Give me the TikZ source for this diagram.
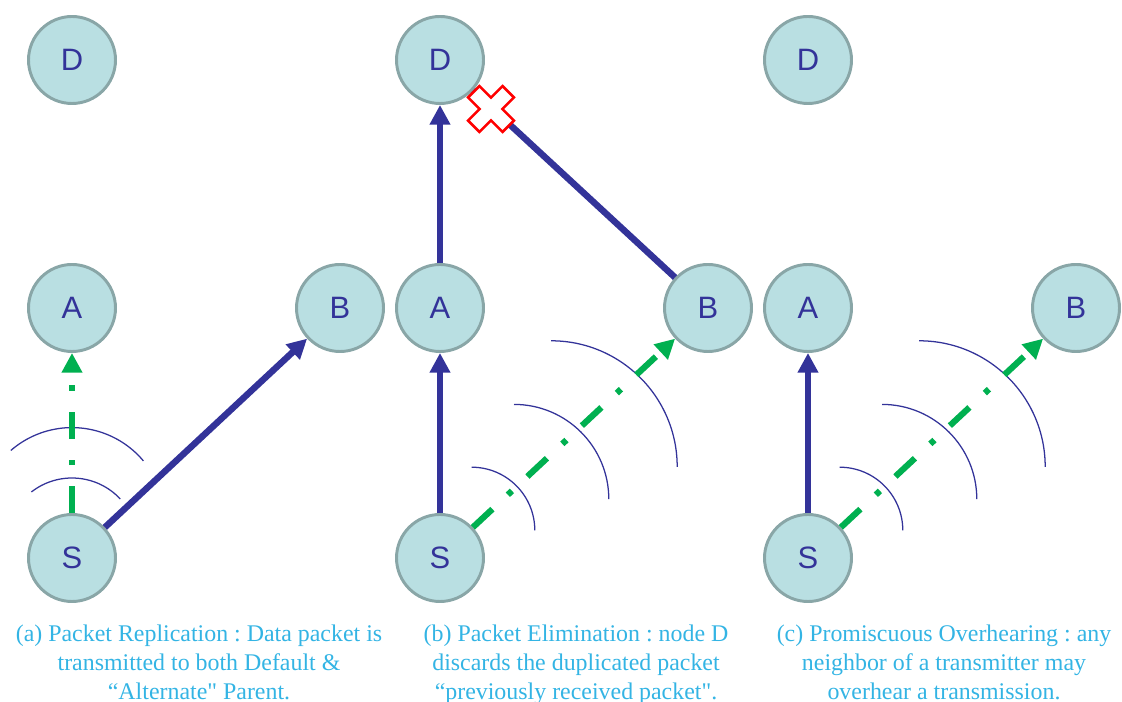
\documentclass[tikz,border=0pt]{standalone}
\usepackage{fontspec}
\newfontfamily\nodefont{Liberation Sans}
\newfontfamily\capfont[Ligatures=TeXOff]{Liberation Serif}
\usepackage[dvipsnames]{xcolor}
\definecolor{nodefill}{HTML}{B9DFE2}
\definecolor{nodeline}{HTML}{89A6A7}
\definecolor{linkblue}{HTML}{333399}
\definecolor{linkgreen}{HTML}{00B050}
\definecolor{captionblue}{HTML}{33B4E4}
\usetikzlibrary{arrows.meta}
\frenchspacing

\tikzset{
  netnode/.style={circle,draw=nodeline,fill=nodefill,line width=2.1pt,minimum size=2.175cm,inner sep=0pt,text=linkblue,font=\nodefont\fontsize{22}{26}\selectfont},
  bluelink/.style={draw=linkblue,line width=4.6pt},
  greenlink/.style={draw=linkgreen,line width=4.4pt,dash pattern=on 19pt off 15pt on 4pt off 15pt},
  headed/.style={-{Triangle[length=14pt,width=14pt]}},
  wave/.style={draw=linkblue,line width=0.9pt},
  caption/.style={text=captionblue,font=\capfont\fontsize{17}{20.5}\selectfont,align=center,anchor=north,inner sep=0pt},
  crossmark/.style={draw=red,fill=white,line width=1.8pt,line join=miter},
}

\begin{document}
\begin{tikzpicture}
  \useasboundingbox (0,0) rectangle (28.05,17.55);

  % three copies of the same four nodes
  \foreach \p/\x in {a/0,b/9.2,c/18.4}{
    \node[netnode] (D\p) at (1.8+\x,16.05) {D};
    \node[netnode] (A\p) at (1.8+\x,9.85) {A};
    \node[netnode] (B\p) at (8.5+\x,9.85) {B};
    \node[netnode] (S\p) at (1.8+\x,3.6) {S};
  }

  % (a) replication
  \draw[wave] ([yshift=0.35cm]Sa.center) ++(43:1.65) arc[start angle=43,end angle=128,radius=1.65];
  \draw[wave] ([yshift=0.93cm]Sa.center) ++(40:2.33) arc[start angle=40,end angle=131,radius=2.33];
  \draw[greenlink,headed] (Sa) -- (Aa);
  \draw[bluelink,headed] (Sa) -- (Ba);

  % (b) and (c) overhearing waves
  \foreach \p in {b,c}{
    \foreach \dx/\dy/\r in {0.79/2.27/1.58,1.85/3.84/2.37,2.78/5.43/3.15}
      \draw[wave] (S\p.center) ++(\dx,\dy) arc[start angle=90,end angle=0,radius=\r];
    \draw[bluelink,headed] (S\p) -- (A\p);
    \draw[greenlink,headed] (S\p) -- (B\p);
  }

  % (b) elimination
  \draw[bluelink,headed] (Ab) -- (Db);
  \draw[bluelink] (Bb) -- (Db);
  \coordinate (cut) at (12.275,14.825);
  \begin{scope}[shift={(cut)},rotate=45]
    \draw[crossmark] (0.2,0.2) -- (0.61,0.2) -- (0.61,-0.2) -- (0.2,-0.2) -- (0.2,-0.61) -- (-0.2,-0.61)
      -- (-0.2,-0.2) -- (-0.61,-0.2) -- (-0.61,0.2) -- (-0.2,0.2) -- (-0.2,0.61) -- (0.2,0.61) -- cycle;
  \end{scope}

  \node[caption] (capa) at (4.975,1.93) {(a) Packet Replication : Data packet is\\transmitted to both Default \&\\“Alternate" Parent.};
  \node[caption] (capb) at (14.4,1.93) {(b) Packet Elimination : node D\\discards the duplicated packet\\“previously received packet".};
  \node[caption] (capc) at (23.6,1.93) {(c) Promiscuous Overhearing : any\\neighbor of a transmitter may\\overhear a transmission.};
\end{tikzpicture}
\end{document}
